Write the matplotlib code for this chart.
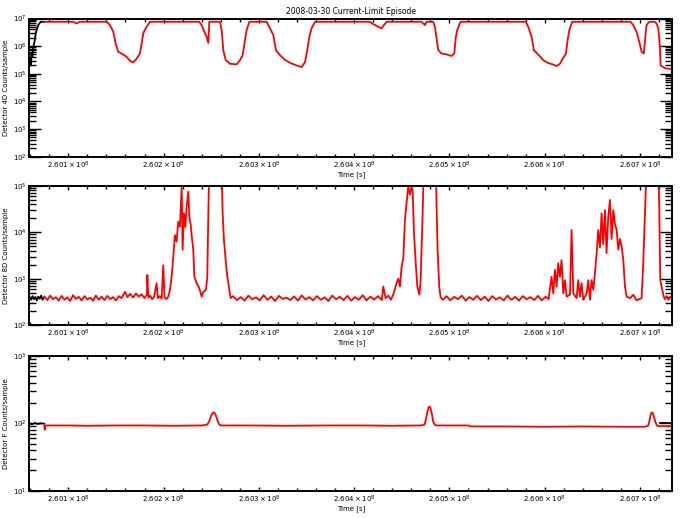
import numpy as np
import matplotlib
matplotlib.use('Agg')
import matplotlib.pyplot as plt
from matplotlib.ticker import FixedLocator, LogLocator, NullFormatter, LogFormatterMathtext

# time axis is kept in ks after 2.6e8 s
T0 = 2.6e8
xlim_ks = (59.1, 733.9)
xticks_ks = [100, 200, 300, 400, 500, 600, 700]
xtick_labels = [r'$2.601\times10^{8}$', r'$2.602\times10^{8}$', r'$2.603\times10^{8}$',
                r'$2.604\times10^{8}$', r'$2.605\times10^{8}$', r'$2.606\times10^{8}$',
                r'$2.607\times10^{8}$']

title = '2008-03-30 Current-Limit Episode'
ylabels = ['Detector 4D Counts/sample', 'Detector 8D Counts/sample', 'Detector F Counts/sample']
ylims = [(1e2, 1e7), (1e2, 1e5), (1e1, 1e3)]

# ---- panel 1 (detector 4D) ----
t1_black = [59.1, 60.0, 60.8, 61.6, 62.3, 63.3, 64.5, 65.8, 67.0, 68.5, 70.0, 71.4, 75.0]
c1_black = [2.5e5, 3.5e5, 2.0e5, 5.6e5, 4.0e5, 9.3e5, 1.4e6, 2.9e6, 4.0e6, 5.75e6, 6.9e6, 7.6e6, 7.6e6]

t1 = [75, 105, 108.8, 112, 140.3, 143.8, 147.3, 149.7, 152.5, 156.0, 161.2, 165.4, 168.3,
      171.7, 175.2, 177.0, 178.7, 181.2, 185.7, 237.5, 240, 243.5, 245.2, 247.0, 248,
      259.2, 261, 262.7, 265.1, 269.7, 276.7, 280.2, 283, 285.4, 287.2, 290,
      308.2, 311.7, 315.2, 318, 322.2, 327.4, 332.6, 339.6, 344.9, 348.4, 350.8, 353,
      355.4, 358.9, 416.6, 420.1, 425.3, 428.8, 430.6, 434.1, 470.8, 473.2, 474.3, 476.0,
      483, 484.8, 486.5, 488.3, 491.8, 497, 502.3, 505.1, 506.8, 508.2, 511.7,
      580.3, 582.7, 586.2, 588.7, 593.2, 598.5, 603.7, 609, 612.5, 616, 618.8, 622.3,
      624, 625.8, 628.9, 690.1, 692.9, 696.4, 698.9, 701.7, 704.1, 705.2, 706.9, 709.7,
      715.7, 717.4, 719.2, 720.9, 721.6, 726.2, 731.4, 733.9]
c1 = [7.6e6, 7.6e6, 6.6e6, 7.6e6, 7.6e6, 5.75e6, 3.3e6, 1.23e6, 6.2e5, 5.4e5, 4.1e5, 2.8e5, 2.6e5,
      3.5e5, 5.4e5, 1.23e6, 2.9e6, 4.4e6, 7.6e6, 7.6e6, 5.75e6, 2.9e6, 2.2e6, 1.3e6, 7.6e6,
      7.6e6, 3.8e6, 7.1e5, 3.2e5, 2.3e5, 2.2e5, 3.1e5, 4.7e5, 1.6e6, 3.8e6, 7.6e6,
      7.6e6, 4.4e6, 2.5e6, 7.1e5, 4.7e5, 3.2e5, 2.5e5, 2.0e5, 1.75e5, 2.6e5, 7.1e5, 2.2e6,
      4.4e6, 7.6e6, 7.6e6, 6.3e6, 5.0e6, 4.4e6, 5.4e6, 7.6e6, 7.6e6, 6.3e6, 5.75e6, 7.6e6,
      7.6e6, 5.0e6, 1.9e6, 7.1e5, 5.4e5, 5.0e5, 4.4e5, 5.4e5, 2.2e6, 3.8e6, 7.6e6,
      7.6e6, 5.0e6, 2.2e6, 7.1e5, 5.0e5, 3.1e5, 2.45e5, 2.15e5, 1.9e5, 2.3e5, 3.5e5, 5.4e5,
      1.6e6, 3.8e6, 7.6e6, 7.6e6, 5.75e6, 3.3e6, 1.6e6, 6.2e5, 5.4e5, 1.6e6, 5.75e6, 7.6e6,
      7.6e6, 6.6e6, 4.4e6, 9.3e5, 2.0e5, 1.6e5, 1.5e5, 1.4e5]

# ---- panel 2 (detector 8D) ----
t2_black = [59.5, 61, 62.5, 64, 65.5, 67, 68.5, 70, 71.5, 73, 74.5]
c2_black = [390, 350, 420, 360, 400, 340, 410, 370, 430, 350, 390]

t2 = [75, 78, 81, 84, 87, 90, 93, 96, 99, 102, 105, 108, 111, 114, 117, 120, 123, 126, 129,
      132, 135, 138, 141, 144, 147, 150, 153,
      156, 159.5, 162, 165, 168, 171, 174, 177, 180, 182.5, 183, 184, 186, 188, 190, 192.7,
      194, 196, 198, 199.7, 201, 203, 205,
      206.7, 208.5, 210.2, 211.9, 213.7, 215.4, 217.2, 219.0, 220.0, 221.4, 222.8, 224.2,
      226.0, 227.0, 228.4, 229.5, 231.2, 232.3, 234.7, 237.2, 240, 241.7, 244.5, 245.9,
      247.0, 248.0, 260.9, 262.0, 263.4, 265.5, 266.9, 269.0, 270.4,
      273, 277, 281, 285, 289, 293, 297, 301, 305, 309, 313, 317, 321, 325, 329, 333, 337,
      341, 345, 349, 353, 357, 361, 365, 369, 373, 377, 381, 385, 389, 393, 397, 401, 405,
      409, 413, 417, 421, 425, 429,
      430.6, 433, 436, 438.5, 441, 444.6, 446.3, 448.1, 449.8, 451.6, 453.3, 455.0, 456.8,
      458.6, 460.3, 461.4, 462.8, 464.9, 466.3, 468.4, 469.8, 471.9, 473.2, 485.8, 486.5,
      487.6, 489.3, 490.7,
      493, 497, 501, 505, 509, 513, 517, 521, 525, 529, 533, 537, 541, 545, 549, 553, 557,
      561, 565, 569, 573, 577, 581, 585, 589, 593, 597, 601, 604,
      607.2, 609, 610.7, 612.5, 614.2, 616, 617.7, 619.5, 621.2, 623, 626.5, 628.2, 630,
      633.5, 635.2, 637, 638.7, 640.5, 644, 645.7, 647.5, 649.2, 651, 652.7, 654.5, 656.2,
      658, 659.7, 661.4, 663.2, 664.9, 666.7, 668.5, 670.2, 672, 673.7, 675.5, 677.2, 679,
      680.7, 682.5, 684.2, 686, 689.5, 693, 696.4, 701.7, 703.4, 704.5, 706.2, 707, 719.2,
      720.2, 721.3, 722.7, 724.4, 726, 728, 730, 732, 733.9]
c2 = [410, 345, 430, 360, 400, 335, 425, 350, 395, 330, 440, 365, 405, 340, 420, 355, 390, 335,
      430, 350, 410, 345, 425, 360, 400, 340, 420,
      380, 520, 400, 470, 390, 480, 410, 460, 380, 450, 1200, 390, 430, 360, 400, 800,
      380, 420, 370, 1950, 400, 360, 410,
      575, 1100, 2950, 8700, 6300, 17000, 13200, 98000, 4200, 25700, 13200, 35500,
      76000, 21900, 15000, 8700, 4200, 1100, 800, 650, 410, 520, 575, 1100,
      25700, 300000, 300000, 25700, 6800, 2150, 1100, 575, 380,
      420, 345, 400, 335, 430, 360, 395, 340, 440, 350, 410, 330, 425, 365, 390, 345, 415,
      335, 435, 355, 400, 340, 420, 350, 395, 330, 430, 360, 405, 345, 425, 335, 400, 350,
      440, 340, 410, 355, 420, 345,
      680, 380, 430, 350, 450, 800, 1000, 680, 1800, 2750, 18600, 42700, 100000,
      65000, 98000, 80000, 9500, 1800, 680, 450, 930, 25700, 300000, 300000, 35500,
      4200, 680, 400,
      350, 420, 340, 405, 360, 430, 335, 400, 350, 425, 345, 410, 330, 420, 355, 395, 340,
      430, 350, 405, 335, 420, 360, 400, 345, 425, 340, 410, 360,
      1100, 480, 1550, 680, 2150, 1100, 2500, 480, 930, 410, 450, 11200, 480,
      380, 930, 410, 800, 350, 480, 930, 350, 930, 575, 1300, 3550, 11200,
      4700, 25700, 5600, 30200, 3550, 21900, 50000, 7200, 30200, 15000, 11200, 4200, 7200,
      5000, 2500, 680, 410, 380, 450, 340, 380, 2150, 10200, 100000, 300000, 300000,
      35500, 930, 680, 450, 360, 420, 350, 410, 380]

# ---- panel 3 (detector F) ----
t3_black = [59.1, 62, 65, 68, 71, 74.8]
c3_black = [100, 97, 101, 98, 100, 99]
t3_black_end = [721, 733.9]
c3_black_end = [100, 100]

t3 = [74.8, 75.3, 76.0, 100, 120, 150, 180, 210, 240, 246, 248, 249.5, 251, 252.5, 253.5,
      255, 256.5, 258, 260, 290, 330, 370, 410, 440, 470, 474, 475.5, 477, 478.5, 480,
      481.5, 483, 485, 487, 520, 522, 560, 600, 640, 680, 705, 708.5, 710, 711.5, 713,
      714.5, 716, 718, 720, 734]
c3 = [93, 80, 93, 93, 92, 93, 93, 92, 93, 96, 108, 125, 140, 145, 143, 130, 112, 98, 93,
      93, 92, 93, 93, 92, 93, 96, 118, 150, 178, 172, 140, 105, 94, 93, 93, 90, 90, 89,
      90, 89, 89, 92, 110, 140, 145, 128, 105, 92, 91, 91]

panels = [
    (t1_black, c1_black, t1, c1),
    (t2_black, c2_black, t2, c2),
    (t3_black, c3_black, t3, c3),
]

W, H = 683, 518
fig = plt.figure(figsize=(W / 100, H / 100), dpi=100)
plt.rcParams['font.family'] = 'DejaVu Sans'

# axes boxes in pixels: (left, top, right, bottom)
boxes = [(29.3, 18.5, 672.3, 156.7), (29.3, 186.0, 672.3, 325.0), (29.3, 356.0, 672.3, 490.7)]

def to_s(ks):
    return T0 + np.asarray(ks) * 1e3

axes = []
for i, (box, (tb, cb, tr, cr)) in enumerate(zip(boxes, panels)):
    l, t, r, b = box
    ax = fig.add_axes([l / W, 1 - b / H, (r - l) / W, (b - t) / H])
    axes.append(ax)
    ax.set_yscale('log')
    ax.plot(to_s(tb), cb, color='black', lw=1.3)
    if i == 2:
        ax.plot(to_s(t3_black_end), c3_black_end, color='black', lw=1.3)
    ax.plot(to_s(tr), cr, color='red', lw=1.3)
    ax.set_xlim(to_s(xlim_ks[0]), to_s(xlim_ks[1]))
    ax.set_ylim(*ylims[i])

    ax.xaxis.set_major_locator(FixedLocator(to_s(xticks_ks)))
    ax.set_xticklabels(xtick_labels, fontsize=5)
    minor = [k for k in range(60, 740, 20) if k % 100 != 0]
    ax.xaxis.set_minor_locator(FixedLocator(to_s(minor)))
    ax.yaxis.set_major_locator(LogLocator(base=10))
    ax.yaxis.set_major_formatter(LogFormatterMathtext())
    ax.yaxis.set_minor_locator(LogLocator(base=10, subs=np.arange(2, 10)))
    ax.yaxis.set_minor_formatter(NullFormatter())

    ax.tick_params(axis='x', which='major', direction='in', top=True, bottom=True,
                   length=3.2, width=1.0, pad=2)
    ax.tick_params(axis='x', which='minor', direction='in', top=True, bottom=True,
                   length=2.2, width=1.0)
    ax.tick_params(axis='y', which='major', direction='in', left=True, right=True,
                   length=8.5, width=1.0, pad=2, labelsize=5)
    ax.tick_params(axis='y', which='minor', direction='in', left=True, right=True,
                   length=5, width=1.0)
    for sp in ax.spines.values():
        sp.set_linewidth(1.4)

    ax.set_xlabel('Time [s]', fontsize=5, labelpad=0)
    ax.set_ylabel(ylabels[i], fontsize=5, labelpad=3)

axes[0].set_title(title, fontsize=5.5, pad=3)

fig.savefig('out.png', dpi=100)
